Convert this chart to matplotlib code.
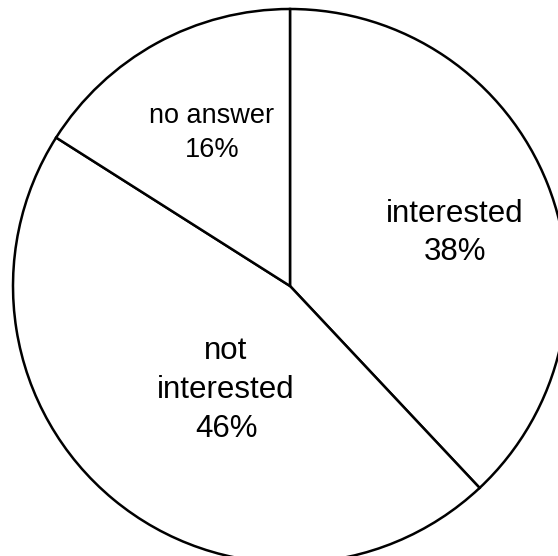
import matplotlib
matplotlib.use("Agg")
import matplotlib.pyplot as plt

categories = ["interested", "not\ninterested", "no answer"]
shares = [38, 46, 16]

plt.rcParams['font.family'] = ['Liberation Sans', 'DejaVu Sans']

W, H = 558, 556
fig = plt.figure(figsize=(W / 100, H / 100), dpi=100)
ax = fig.add_axes([0, 0, 1, 1])

cx, cy, r = 290, H - 286, 277
ax.pie(shares, center=(cx, cy), radius=r, startangle=90, counterclock=False,
       colors=['white'] * len(shares), frame=True,
       wedgeprops=dict(edgecolor='black', linewidth=1.8))
ax.set_xlim(0, W)
ax.set_ylim(0, H)
ax.set_aspect('equal')
ax.axis('off')

label_pos = [(455, 233), (226, 390), (212, 133)]
label_size = [22.5, 22.5, 19.5]
for cat, val, (x, y), fs in zip(categories, shares, label_pos, label_size):
    ax.text(x, H - y, f"{cat}\n{val}%", ha='center', va='center',
            fontsize=fs, linespacing=1.38, color='black')

fig.savefig("out.png", dpi=100)
